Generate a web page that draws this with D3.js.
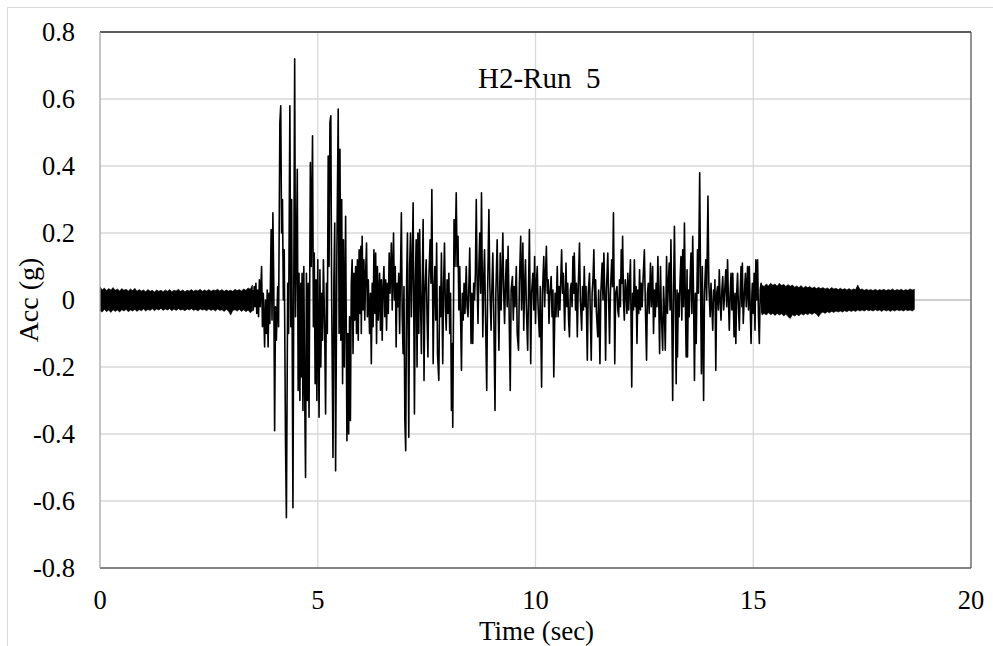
<!DOCTYPE html>
<html lang="en">
<head>
<meta charset="UTF-8">
<title>H2-Run 5</title>
<script src="https://d3js.org/d3.v7.min.js"></script>
<style>
body { margin: 0; background: #fff; }
svg { display: block; }
text { font-family: "Liberation Serif", "Times New Roman", serif; fill: #000; }
</style>
</head>
<body>
<svg id="chart" width="993" height="646"></svg>
<script>
// axis ticks
const xTicks = [0, 5, 10, 15, 20];
const yTicks = [-0.8, -0.6, -0.4, -0.2, 0, 0.2, 0.4, 0.6, 0.8];
const yTickLabels = ["-0.8", "-0.6", "-0.4", "-0.2", "0", "0.2", "0.4", "0.6", "0.8"];

// quiet parts of the record, read as band edges: [time, upper, lower]
const preEvent = [
  [0.00, .040, -.032], [0.05, .030, -.036], [0.10, .036, -.028], [0.15, .028, -.035],
  [0.20, .034, -.030], [0.25, .030, -.037], [0.30, .037, -.029], [0.35, .029, -.034],
  [0.40, .033, -.030], [0.45, .027, -.036], [0.50, .034, -.029], [0.55, .029, -.033],
  [0.60, .032, -.028], [0.65, .027, -.035], [0.70, .033, -.030], [0.75, .028, -.033],
  [0.80, .035, -.028], [0.85, .026, -.034], [0.90, .031, -.029], [0.95, .027, -.032],
  [1.00, .030, -.027], [1.05, .025, -.033], [1.10, .031, -.028], [1.15, .026, -.031],
  [1.20, .029, -.026], [1.25, .024, -.032], [1.30, .030, -.027], [1.35, .026, -.030],
  [1.40, .029, -.025], [1.45, .025, -.031], [1.50, .030, -.027], [1.55, .026, -.030],
  [1.60, .031, -.026], [1.65, .025, -.032], [1.70, .029, -.027], [1.75, .027, -.031],
  [1.80, .032, -.026], [1.85, .026, -.030], [1.90, .030, -.028], [1.95, .025, -.032],
  [2.00, .029, -.027], [2.05, .027, -.030], [2.10, .031, -.026], [2.15, .026, -.031],
  [2.20, .030, -.028], [2.25, .027, -.033], [2.30, .032, -.027], [2.35, .026, -.030],
  [2.40, .030, -.028], [2.45, .027, -.032], [2.50, .031, -.027], [2.55, .026, -.031],
  [2.60, .030, -.028], [2.65, .028, -.033], [2.70, .032, -.027], [2.75, .027, -.031],
  [2.80, .031, -.029], [2.85, .026, -.034], [2.90, .030, -.028], [2.95, .027, -.033],
  [3.00, .029, -.045], [3.05, .026, -.031], [3.10, .032, -.029], [3.15, .028, -.033],
  [3.20, .031, -.028], [3.25, .027, -.034], [3.30, .033, -.029], [3.35, .029, -.035],
  [3.40, .036, -.030], [3.45, .032, -.038], [3.50, .045, -.033]
];

const coda = [
  [15.20, .045, -.045], [15.25, .040, -.040], [15.30, .048, -.045], [15.35, .042, -.038],
  [15.40, .050, -.044], [15.45, .044, -.040], [15.50, .048, -.046], [15.55, .041, -.040],
  [15.60, .050, -.045], [15.65, .043, -.041], [15.70, .047, -.048], [15.75, .040, -.042],
  [15.80, .046, -.050], [15.85, .041, -.055], [15.90, .045, -.044], [15.95, .038, -.048],
  [16.00, .042, -.043], [16.05, .037, -.047], [16.10, .043, -.041], [16.15, .036, -.045],
  [16.20, .041, -.040], [16.25, .037, -.044], [16.30, .040, -.039], [16.35, .035, -.043],
  [16.40, .039, -.038], [16.45, .034, -.042], [16.50, .038, -.050], [16.55, .034, -.040],
  [16.60, .037, -.036], [16.65, .033, -.040], [16.70, .036, -.035], [16.75, .032, -.038],
  [16.80, .037, -.034], [16.85, .033, -.037], [16.90, .035, -.033], [16.95, .031, -.036],
  [17.00, .035, -.033], [17.05, .031, -.036], [17.10, .034, -.032], [17.15, .030, -.035],
  [17.20, .034, -.031], [17.25, .030, -.034], [17.30, .033, -.031], [17.35, .031, -.034],
  [17.40, .045, -.030], [17.45, .031, -.033], [17.50, .033, -.030], [17.55, .029, -.033],
  [17.60, .032, -.029], [17.65, .029, -.032], [17.70, .031, -.030], [17.75, .028, -.033],
  [17.80, .032, -.029], [17.85, .028, -.032], [17.90, .031, -.030], [17.95, .029, -.034],
  [18.00, .032, -.029], [18.05, .028, -.033], [18.10, .031, -.030], [18.15, .029, -.034],
  [18.20, .033, -.030], [18.25, .028, -.033], [18.30, .031, -.029], [18.35, .029, -.032],
  [18.40, .032, -.030], [18.45, .028, -.033], [18.50, .031, -.029], [18.55, .029, -.032],
  [18.60, .033, -.030], [18.65, .030, -.033], [18.70, .032, -.028]
];

// strong motion, turning points: [time (sec), acc (g)]
const burstA = [
  [3.50, 0.03], [3.52, -0.03], [3.54, 0.04], [3.56, -0.02], [3.58, 0.05], [3.60, -0.04],
  [3.62, 0.03], [3.64, -0.05], [3.66, 0.06], [3.68, -0.02], [3.71, 0.10], [3.73, -0.08],
  [3.75, 0.02], [3.78, -0.14], [3.80, 0.00], [3.82, -0.10], [3.84, 0.03], [3.86, -0.14],
  [3.88, 0.02], [3.90, -0.07], [3.93, 0.21], [3.95, -0.06], [3.97, 0.26], [3.99, 0.05],
  [4.01, -0.39], [4.03, -0.02], [4.05, -0.12], [4.08, 0.04], [4.10, -0.08], [4.13, 0.53],
  [4.15, 0.58], [4.17, 0.20], [4.19, 0.30], [4.21, 0.00], [4.23, 0.15], [4.26, -0.43],
  [4.28, -0.65], [4.31, 0.05], [4.33, -0.10], [4.36, 0.58], [4.38, -0.08], [4.40, 0.30],
  [4.43, -0.62], [4.47, 0.72], [4.49, -0.05], [4.51, 0.12], [4.53, 0.39], [4.55, -0.27],
  [4.57, 0.08], [4.59, -0.30], [4.61, 0.05], [4.62, -0.23], [4.64, 0.08], [4.66, -0.33],
  [4.68, 0.10], [4.70, -0.28], [4.72, -0.53], [4.74, 0.08], [4.76, -0.30], [4.78, 0.05],
  [4.80, -0.35], [4.83, 0.41], [4.85, 0.10], [4.88, 0.49], [4.90, -0.08], [4.92, 0.14],
  [4.94, -0.25], [4.96, 0.06], [4.98, -0.30], [5.00, 0.12], [5.03, -0.35], [5.05, 0.09],
  [5.07, -0.20], [5.09, 0.02], [5.11, -0.12], [5.13, 0.12], [5.16, -0.10], [5.18, -0.34],
  [5.20, 0.05], [5.22, -0.10], [5.24, 0.43], [5.26, 0.10], [5.28, 0.53], [5.30, 0.55],
  [5.32, 0.00], [5.35, -0.47], [5.37, 0.05], [5.39, 0.23], [5.41, -0.51], [5.44, 0.15],
  [5.47, 0.57], [5.49, -0.10], [5.51, 0.45], [5.53, -0.12], [5.55, 0.30], [5.57, -0.25],
  [5.59, 0.18], [5.61, -0.20], [5.64, 0.25], [5.67, -0.42], [5.69, -0.10], [5.71, -0.40],
  [5.73, -0.05], [5.75, -0.36], [5.77, 0.05], [5.79, 0.12]
];

const burstB = [
  [5.81, -0.16], [5.83, 0.08], [5.85, -0.06], [5.87, 0.10], [5.89, -0.10], [5.91, 0.12],
  [5.93, -0.12], [5.95, 0.15], [5.97, -0.04], [5.99, 0.16], [6.00, -0.10], [6.02, 0.19],
  [6.04, -0.03], [6.06, 0.12], [6.08, -0.06], [6.10, 0.08], [6.12, 0.17], [6.14, -0.05],
  [6.16, 0.06], [6.19, -0.10], [6.21, 0.02], [6.23, -0.19], [6.25, 0.05], [6.27, -0.08],
  [6.29, 0.15], [6.31, -0.04], [6.33, 0.14], [6.35, -0.13], [6.37, 0.10], [6.39, -0.06],
  [6.42, 0.08], [6.44, -0.09], [6.46, 0.06], [6.48, -0.12], [6.50, 0.04], [6.52, 0.10],
  [6.54, -0.05], [6.56, 0.06], [6.58, -0.09], [6.60, 0.05], [6.62, -0.04], [6.64, 0.14],
  [6.66, 0.02], [6.69, 0.17], [6.71, -0.03], [6.74, 0.20], [6.76, 0.00], [6.78, 0.10],
  [6.80, -0.14], [6.82, 0.05], [6.84, -0.02], [6.86, 0.08], [6.88, -0.10], [6.92, 0.26],
  [6.94, -0.05], [6.96, -0.16], [6.98, 0.04], [7.00, -0.36], [7.02, -0.45], [7.04, 0.05],
  [7.06, 0.20], [7.09, -0.41], [7.11, 0.10], [7.13, 0.20], [7.15, -0.05], [7.17, 0.12],
  [7.19, 0.29], [7.22, -0.34], [7.24, 0.05], [7.26, 0.18], [7.28, -0.20], [7.30, 0.20],
  [7.32, -0.10], [7.34, 0.21], [7.36, 0.00], [7.38, -0.16], [7.40, 0.05], [7.42, 0.24],
  [7.44, -0.24], [7.46, 0.02], [7.49, 0.12], [7.51, -0.05], [7.53, -0.17], [7.55, 0.06],
  [7.58, 0.18], [7.60, 0.05], [7.62, 0.33], [7.65, -0.19], [7.67, 0.03], [7.69, 0.10],
  [7.71, -0.06], [7.73, 0.17], [7.75, -0.16], [7.78, -0.24], [7.80, 0.04], [7.82, -0.05],
  [7.84, 0.14], [7.87, -0.19], [7.89, 0.05], [7.91, 0.17], [7.93, -0.02], [7.95, -0.09],
  [7.97, 0.06], [7.99, -0.04], [8.01, 0.08], [8.03, -0.10], [8.05, 0.02], [8.07, -0.33],
  [8.09, -0.13], [8.10, -0.38], [8.13, 0.24], [8.15, 0.10], [8.18, 0.32], [8.20, 0.10],
  [8.22, 0.19], [8.24, -0.03], [8.26, 0.10], [8.28, -0.05], [8.30, -0.21], [8.32, 0.02],
  [8.34, -0.06], [8.36, 0.05], [8.38, -0.04], [8.41, 0.10], [8.43, -0.02], [8.45, -0.05],
  [8.47, 0.04], [8.49, 0.155], [8.51, -0.03], [8.52, -0.13], [8.54, 0.02], [8.56, -0.13],
  [8.58, 0.05], [8.60, 0.00], [8.62, 0.08], [8.64, 0.30], [8.66, 0.05], [8.68, -0.07],
  [8.70, 0.10], [8.72, 0.20], [8.74, 0.02], [8.76, 0.32], [8.79, -0.11], [8.81, 0.06],
  [8.83, 0.15], [8.85, -0.03], [8.88, -0.27], [8.90, 0.02], [8.93, 0.27], [8.95, 0.05],
  [8.98, -0.09], [9.00, 0.04], [9.02, 0.14], [9.04, -0.02], [9.07, -0.33], [9.09, 0.02],
  [9.12, 0.18], [9.14, 0.00], [9.16, -0.15], [9.18, 0.05], [9.19, 0.14], [9.21, -0.03],
  [9.23, 0.08], [9.25, 0.20], [9.27, 0.02], [9.29, -0.07], [9.31, 0.05], [9.33, 0.12],
  [9.35, -0.02], [9.37, 0.16], [9.39, 0.00], [9.42, -0.27], [9.44, 0.03], [9.47, 0.07],
  [9.49, -0.06], [9.51, 0.04], [9.53, -0.02], [9.56, 0.10], [9.58, -0.10], [9.61, -0.15],
  [9.63, 0.05], [9.66, 0.19], [9.68, -0.03], [9.71, 0.17], [9.73, -0.09], [9.75, 0.04],
  [9.77, 0.12], [9.79, -0.02], [9.82, -0.15], [9.84, 0.03], [9.86, 0.21], [9.89, -0.19],
  [9.91, 0.02], [9.94, 0.08], [9.96, -0.03], [9.98, 0.13], [10.00, -0.07], [10.02, 0.05],
  [10.04, 0.10], [10.06, -0.02], [10.09, -0.11], [10.11, 0.04], [10.14, -0.26], [10.16, 0.02],
  [10.19, 0.13], [10.21, -0.02], [10.23, 0.08], [10.25, 0.16], [10.27, 0.02], [10.29, 0.06],
  [10.31, -0.07], [10.33, 0.02], [10.36, 0.07], [10.38, -0.05], [10.40, 0.03], [10.42, -0.23]
];

const burstC = [
  [10.45, 0.02], [10.47, -0.05], [10.50, 0.10], [10.52, -0.05], [10.54, 0.04], [10.56, -0.03],
  [10.58, 0.06], [10.60, 0.15], [10.62, 0.02], [10.64, 0.08], [10.67, -0.09], [10.70, 0.11],
  [10.72, -0.02], [10.74, 0.05], [10.76, -0.06], [10.78, -0.11], [10.80, 0.03], [10.82, 0.05],
  [10.84, -0.02], [10.86, 0.13], [10.88, 0.02], [10.89, 0.14], [10.92, -0.03], [10.94, 0.05],
  [10.96, -0.11], [10.98, 0.03], [11.01, 0.17], [11.03, 0.00], [11.06, -0.09], [11.08, 0.04],
  [11.10, -0.03], [11.12, 0.10], [11.14, -0.02], [11.16, 0.04], [11.19, -0.18], [11.21, 0.02],
  [11.24, 0.08], [11.26, -0.05], [11.28, -0.18], [11.30, 0.02], [11.32, 0.06], [11.34, 0.15],
  [11.36, -0.02], [11.38, 0.06], [11.40, -0.04], [11.43, -0.11], [11.45, 0.03], [11.48, -0.19],
  [11.50, 0.02], [11.53, 0.11], [11.55, 0.00], [11.57, 0.14], [11.59, 0.02], [11.61, -0.18],
  [11.63, 0.03], [11.66, 0.14], [11.68, 0.00], [11.70, -0.13], [11.72, 0.02], [11.75, 0.12],
  [11.77, 0.04], [11.79, 0.26], [11.82, -0.19], [11.84, 0.02], [11.87, 0.04], [11.89, -0.03],
  [11.91, -0.05], [11.93, 0.06], [11.95, -0.02], [11.97, 0.15], [11.99, 0.05], [12.00, 0.19],
  [12.02, 0.00], [12.04, -0.06], [12.06, 0.06], [12.08, 0.03], [12.10, -0.04], [12.12, 0.08],
  [12.14, -0.03], [12.16, 0.05], [12.18, 0.12], [12.21, -0.26], [12.23, 0.02], [12.25, -0.03],
  [12.27, 0.12], [12.29, -0.02], [12.31, 0.04], [12.33, -0.13], [12.35, 0.03], [12.37, -0.04],
  [12.39, 0.09], [12.41, -0.03], [12.43, 0.05], [12.45, -0.02], [12.47, 0.06], [12.50, 0.15],
  [12.52, 0.00], [12.55, -0.18], [12.57, 0.02], [12.59, 0.05], [12.61, -0.04], [12.64, 0.11],
  [12.66, -0.02], [12.69, 0.10], [12.71, -0.10], [12.73, 0.03], [12.75, -0.05], [12.77, 0.05],
  [12.79, -0.02], [12.81, 0.13], [12.83, 0.00], [12.85, -0.16], [12.87, 0.10], [12.89, -0.04],
  [12.92, -0.15], [12.94, 0.04], [12.96, -0.03], [12.98, -0.15], [13.01, 0.13], [13.03, -0.04],
  [13.05, 0.05], [13.07, 0.11], [13.09, -0.03], [13.11, 0.18], [13.13, -0.05], [13.15, -0.30],
  [13.17, 0.02], [13.19, 0.22], [13.21, 0.00], [13.23, -0.25], [13.25, 0.03], [13.26, -0.17],
  [13.28, 0.02], [13.30, -0.05], [13.32, 0.06], [13.34, 0.13], [13.36, -0.06], [13.38, 0.15],
  [13.40, -0.02], [13.42, 0.23], [13.44, 0.00], [13.46, -0.17], [13.48, 0.09], [13.49, -0.17],
  [13.51, 0.03], [13.53, -0.05], [13.55, 0.06], [13.57, 0.14], [13.59, -0.04], [13.61, 0.19],
  [13.63, 0.00], [13.65, -0.24], [13.67, 0.02], [13.69, -0.13], [13.72, 0.15], [13.74, 0.02],
  [13.77, 0.38], [13.79, 0.05], [13.81, -0.22], [13.83, 0.10], [13.86, -0.30], [13.88, 0.02],
  [13.91, 0.12], [13.93, 0.00], [13.96, 0.31], [13.98, 0.05], [14.01, -0.05], [14.03, 0.05],
  [14.05, -0.02], [14.07, -0.09], [14.09, 0.03], [14.11, 0.00], [14.12, 0.06], [14.14, -0.21],
  [14.16, 0.02], [14.18, 0.04], [14.20, -0.03], [14.22, 0.09], [14.24, 0.00], [14.26, -0.06],
  [14.28, 0.03], [14.30, 0.07], [14.32, -0.03], [14.33, -0.01], [14.35, 0.04], [14.37, 0.09],
  [14.39, -0.02], [14.41, 0.12], [14.43, 0.00], [14.45, -0.09], [14.47, 0.02], [14.49, 0.08],
  [14.51, -0.03], [14.53, 0.08], [14.55, -0.05], [14.56, -0.11], [14.58, 0.02], [14.60, -0.13],
  [14.62, 0.02], [14.64, 0.08], [14.66, -0.02], [14.68, -0.09], [14.70, 0.02], [14.72, 0.10],
  [14.74, -0.02], [14.75, 0.11], [14.77, -0.07], [14.80, 0.03], [14.82, 0.08], [14.84, -0.02],
  [14.87, 0.10], [14.89, -0.03], [14.91, 0.10], [14.93, -0.02], [14.95, -0.13], [14.97, 0.02],
  [14.98, 0.05], [15.00, -0.04], [15.02, 0.08], [15.04, -0.09], [15.06, 0.12], [15.08, 0.00],
  [15.10, 0.12], [15.12, -0.05], [15.14, -0.13], [15.16, 0.03], [15.18, 0.05], [15.20, -0.04]
];

const width = 993;
const height = 646;
const margin = { top: 32, right: 22, bottom: 78, left: 100 };
const serif = "'Liberation Serif', 'Times New Roman', serif";

const svg = d3.select("#chart");

// outer chart frame
svg.append("rect")
    .attr("x", 7.5).attr("y", 7.5)
    .attr("width", width + 20).attr("height", height + 20)
    .attr("fill", "#fff")
    .attr("stroke", "#d9d9d9");

const x = d3.scaleLinear().domain([0, 20]).range([margin.left, width - margin.right]);
const y = d3.scaleLinear().domain([-0.8, 0.8]).range([height - margin.bottom, margin.top]);

// grid
svg.append("g")
    .selectAll("line")
    .data(yTicks.filter(d => d !== 0 && Math.abs(d) < 0.8))
    .join("line")
    .attr("x1", x(0)).attr("x2", x(20))
    .attr("y1", d => y(d)).attr("y2", d => y(d))
    .attr("stroke", "#d9d9d9").attr("stroke-width", 1.3);

svg.append("g")
    .selectAll("line")
    .data(xTicks.filter(d => d > 0 && d < 20))
    .join("line")
    .attr("x1", d => x(d)).attr("x2", d => x(d))
    .attr("y1", y(0.8)).attr("y2", y(-0.8))
    .attr("stroke", "#d9d9d9").attr("stroke-width", 1.3);

// zero line
svg.append("line")
    .attr("x1", x(0)).attr("x2", x(20))
    .attr("y1", y(0)).attr("y2", y(0))
    .attr("stroke", "#bfbfbf").attr("stroke-width", 1.3);

svg.append("clipPath").attr("id", "plot")
    .append("rect")
    .attr("x", x(0)).attr("y", y(0.8))
    .attr("width", x(20) - x(0)).attr("height", y(-0.8) - y(0.8));

const g = svg.append("g").attr("clip-path", "url(#plot)");

// quiet parts drawn as a filled band
const band = d3.area()
    .x(d => x(d[0]))
    .y0(d => y(d[2]))
    .y1(d => y(d[1]));

[preEvent, coda].forEach(part => {
    g.append("path")
        .attr("d", band(part))
        .attr("fill", "#000")
        .attr("stroke", "#000")
        .attr("stroke-width", 0.6);
});

// strong motion trace
const line = d3.line()
    .x(d => x(d[0]))
    .y(d => y(d[1]));

g.append("path")
    .attr("d", line(burstA.concat(burstB, burstC)))
    .attr("fill", "none")
    .attr("stroke", "#000")
    .attr("stroke-width", 1.6)
    .attr("stroke-linejoin", "round");

// plot area border
svg.append("line") // top
    .attr("x1", x(0)).attr("x2", x(20)).attr("y1", y(0.8)).attr("y2", y(0.8))
    .attr("stroke", "#262626").attr("stroke-width", 1.3);
svg.append("line") // right
    .attr("x1", x(20)).attr("x2", x(20)).attr("y1", y(0.8)).attr("y2", y(-0.8))
    .attr("stroke", "#595959").attr("stroke-width", 1.3);
svg.append("line") // bottom
    .attr("x1", x(0)).attr("x2", x(20)).attr("y1", y(-0.8)).attr("y2", y(-0.8))
    .attr("stroke", "#595959").attr("stroke-width", 1.3);
svg.append("line") // left
    .attr("x1", x(0)).attr("x2", x(0)).attr("y1", y(0.8)).attr("y2", y(-0.8))
    .attr("stroke", "#a6a6a6").attr("stroke-width", 1.3);

// tick labels
svg.append("g")
    .selectAll("text")
    .data(yTicks)
    .join("text")
    .attr("x", x(0) - 25)
    .attr("y", d => y(d) + 9)
    .attr("text-anchor", "end")
    .attr("font-family", serif)
    .attr("font-size", 26.5)
    .text((d, i) => yTickLabels[i]);

svg.append("g")
    .selectAll("text")
    .data(xTicks)
    .join("text")
    .attr("x", d => x(d))
    .attr("y", 609)
    .attr("text-anchor", "middle")
    .attr("font-family", serif)
    .attr("font-size", 26.5)
    .text(d => d);

// axis titles
svg.append("text")
    .attr("x", x(10) + 1)
    .attr("y", 640)
    .attr("text-anchor", "middle")
    .attr("font-family", serif)
    .attr("font-size", 27)
    .text("Time (sec)");

svg.append("text")
    .attr("transform", `translate(38, ${y(0)}) rotate(-90)`)
    .attr("text-anchor", "middle")
    .attr("font-family", serif)
    .attr("font-size", 28)
    .text("Acc (g)");

// run label
svg.append("text")
    .attr("x", 478)
    .attr("y", 88)
    .attr("font-family", serif)
    .attr("font-size", 29)
    .style("white-space", "pre")
    .text("H2-Run  5");
</script>
</body>
</html>
